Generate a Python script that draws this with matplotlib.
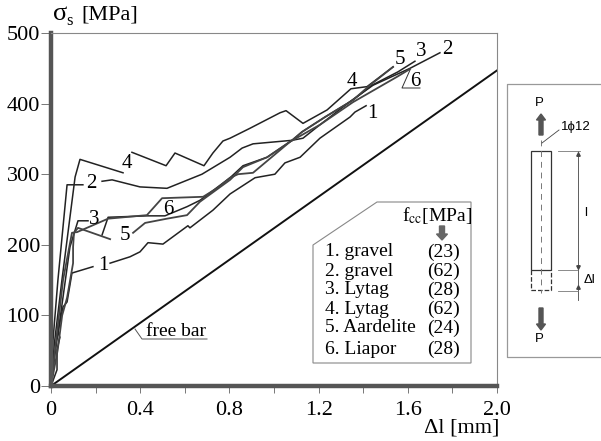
import matplotlib
matplotlib.use('Agg')
import matplotlib.pyplot as plt
from matplotlib.patches import Polygon, Rectangle, FancyArrow

plt.rcParams['font.family'] = ['Liberation Serif', 'DejaVu Serif']
plt.rcParams['mathtext.fontset'] = 'stix'

# curves, broken where the number label sits on the line
c1a_x = [0, 0.027, 0.027, 0.04, 0.031, 0.054, 0.072, 0.094, 0.188]
c1a_y = [0, 23, 51, 69, 76, 112, 119, 160, 169]
c1b_x = [0.265, 0.354, 0.399, 0.435, 0.502, 0.614, 0.623, 0.726, 0.803, 0.915, 1.004, 1.049, 1.117, 1.206, 1.341, 1.363, 1.413]
c1b_y = [174, 183, 190, 203, 201, 227, 224, 249, 272, 295, 300, 316, 324, 351, 381, 388, 397]

c2a_x = [0, 0.009, 0.031, 0.072, 0.143]
c2a_y = [0, 65, 150, 285, 285]
c2b_x = [0.229, 0.274, 0.399, 0.52, 0.677, 0.803, 0.857, 0.906, 1.081, 1.13, 1.206, 1.35, 1.444, 1.61, 1.744]
c2b_y = [290, 292, 282, 280, 300, 324, 337, 343, 348, 351, 370, 405, 426, 450, 472]

c3a_x = [0, 0.02, 0.04, 0.085, 0.121, 0.166]
c3a_y = [0, 50, 94, 197, 234, 234]
c3b_x = [0.229, 0.256, 0.43, 0.511, 0.61, 0.668, 0.803, 0.861, 0.969, 1.081, 1.126, 1.229, 1.354, 1.439, 1.556, 1.632]
c3b_y = [214, 239, 241, 241, 254, 263, 295, 312, 324, 348, 360, 381, 405, 426, 445, 460]

c4a_x = [0, 0.015, 0.049, 0.108, 0.13, 0.323]
c4a_y = [0, 60, 150, 296, 321, 302]
c4b_x = [0.363, 0.516, 0.556, 0.686, 0.726, 0.771, 0.803, 0.892, 1.027, 1.054, 1.13, 1.238, 1.345, 1.417, 1.534]
c4b_y = [331, 312, 330, 312, 330, 347, 351, 365, 387, 390, 372, 391, 421, 424, 452]

c5a_x = [0, 0.03, 0.05, 0.072, 0.099, 0.099, 0.103, 0.121, 0.229, 0.265]
c5a_y = [0, 51, 100, 125, 174, 197, 217, 224, 212, 208]
c5b_x = [0.368, 0.422, 0.52, 0.61, 0.668, 0.803, 0.861, 0.969, 1.081, 1.126, 1.229, 1.354, 1.43, 1.534]
c5b_y = [217, 231, 237, 242, 261, 292, 310, 324, 348, 360, 381, 405, 426, 452]

c6_x = [0, 0.025, 0.054, 0.094, 0.117, 0.256, 0.43, 0.498, 0.682, 0.744, 0.803, 0.839, 0.906, 1.072, 1.206, 1.354, 1.552, 1.61]
c6_y = [0, 70, 150, 217, 218, 237, 242, 266, 268, 280, 295, 300, 302, 346, 370, 402, 438, 449]

free_x = [0, 2.0]
free_y = [0, 447]

x_ticks = [0, 0.4, 0.8, 1.2, 1.6, 2.0]
x_minor = [0.2, 0.6, 1.0, 1.4, 1.8]
x_labels = ['0', '0.4', '0.8', '1.2', '1.6', '2.0']
y_ticks = [0, 100, 200, 300, 400, 500]

legend_names = ['1. gravel', '2. gravel', '3. Lytag', '4. Lytag', '5. Aardelite', '6. Liapor']
legend_fcc = ['(23)', '(62)', '(28)', '(62)', '(24)', '(28)']

W, H = 601, 441
fig = plt.figure(figsize=(6.01, 4.41), dpi=100)
ax = fig.add_axes([51 / W, 1 - 386 / H, 446 / W, 353 / H])
ax.set_xlim(0, 2.0)
ax.set_ylim(0, 500)

for xs, ys in [(c1a_x, c1a_y), (c1b_x, c1b_y), (c2a_x, c2a_y), (c2b_x, c2b_y),
               (c3a_x, c3a_y), (c3b_x, c3b_y), (c4a_x, c4a_y), (c4b_x, c4b_y)]:
    ax.plot(xs, ys, color='#222222', lw=1.1)
for xs, ys in [(c5a_x, c5a_y), (c5b_x, c5b_y), (c6_x, c6_y)]:
    ax.plot(xs, ys, color='#444444', lw=1.3)
ax.plot(free_x, free_y, color='#111111', lw=1.4)

ax.set_xticks(x_ticks)
ax.set_xticks(x_minor, minor=True)
ax.set_xticklabels(x_labels, fontsize=16)
ax.set_yticks(y_ticks)
ax.tick_params(axis='y', labelsize=16, length=7, width=0.7, color='#777777', pad=1)
ax.tick_params(axis='x', which='both', length=5, width=0.7, color='#777777', pad=6)
ax.spines['left'].set_linewidth(3.2)
ax.spines['bottom'].set_linewidth(3.2)
ax.spines['left'].set_color('#555555')
ax.spines['bottom'].set_color('#555555')
ax.spines['top'].set_linewidth(0.8)
ax.spines['top'].set_color('#888888')
ax.spines['right'].set_linewidth(0.8)
ax.spines['right'].set_color('#888888')

# overlay in pixel coordinates for the labels and the sketch
ov = fig.add_axes([0, 0, 1, 1])
ov.set_xlim(0, W)
ov.set_ylim(H, 0)
ov.axis('off')

ov.text(53, 14, '\u03c3', fontsize=19, va='center', ha='left')
ov.text(66, 21, 's', fontsize=12, va='center', ha='left')
ov.text(81, 15, '[MPa]', fontsize=16, va='center', ha='left')
ov.text(424, 428, '\u0394l [mm]', fontsize=16, va='center', ha='left')

for s, x, y in [('1', 103, 266), ('1', 372, 114), ('2', 91, 183), ('2', 447, 50),
                ('3', 94, 220), ('3', 421, 52), ('4', 127, 163), ('4', 352, 81),
                ('5', 125, 235), ('5', 400, 60), ('6', 168, 209), ('6', 415, 81)]:
    ov.text(x, y, s, fontsize=15, ha='center', va='center')

# leaders
ov.plot([410, 402, 420], [70, 88, 88], color='#333333', lw=0.7)
ov.plot([135, 142, 207], [329, 339, 339], color='#555555', lw=0.7)
ov.text(146, 331, 'free bar', fontsize=14, va='center', ha='left')

# legend box
ov.add_patch(Polygon([(377, 202), (471, 202), (471, 363), (313, 363), (313, 245)],
                     fill=False, ec='#888888', lw=0.8))
ov.text(402, 215, r'f$_{\mathrm{cc}}$[MPa]', fontsize=14, ha='left', va='center')
ov.add_patch(FancyArrow(442, 226, 0, 14, width=5, head_width=11, head_length=6,
                        length_includes_head=True, color='#666666'))
rows = [252, 271, 290, 309, 328, 349]
for name, fcc, y in zip(legend_names, legend_fcc, rows):
    ov.text(325, y, name, fontsize=14, ha='left', va='center')
    ov.text(443, y, fcc, fontsize=14, ha='center', va='center')

# specimen sketch
ov.plot([600, 507, 507, 600], [84, 84, 357, 357], color='#999999', lw=0.9)
ov.add_patch(Rectangle((531, 151), 20, 119, fill=False, ec='#333333', lw=0.9))
ov.plot([531, 531, 551, 551], [270, 290, 290, 270], color='#333333', lw=0.9, ls='--')
ov.plot([541, 541], [140, 293], color='#777777', lw=0.7, ls=(0, (6, 5)))
ov.add_patch(FancyArrow(541, 135, 0, -21, width=4, head_width=9, head_length=6,
                        length_includes_head=True, color='#555555'))
ov.add_patch(FancyArrow(541, 308, 0, 22, width=4, head_width=9, head_length=6,
                        length_includes_head=True, color='#555555'))
sans = ['Liberation Sans', 'DejaVu Sans']
ov.text(539, 103, 'P', fontsize=9.5, family=sans, ha='center', va='center')
ov.text(539, 339, 'P', fontsize=9.5, family=sans, ha='center', va='center')
ov.text(561, 127, '1\u03d512', fontsize=9.5, family=sans, ha='left', va='center')
ov.plot([542, 559], [143, 130], color='#444444', lw=0.6)
ov.plot([578, 578], [151, 300], color='#444444', lw=0.6)
for y0, x1 in [(151, 580), (270, 577), (291, 578)]:
    ov.plot([558, x1], [y0, y0], color='#777777', lw=0.6)
ov.plot([578, 578], [154, 287], ls='none', marker='^', ms=2.5, color='#444444')
ov.plot([578], [267], ls='none', marker='v', ms=2.5, color='#444444')
ov.text(586, 213, 'l', fontsize=9.5, family=sans, ha='center', va='center')
ov.text(589, 280, '\u0394l', fontsize=9.5, family=sans, ha='center', va='center')

fig.savefig('out.png', dpi=100)
